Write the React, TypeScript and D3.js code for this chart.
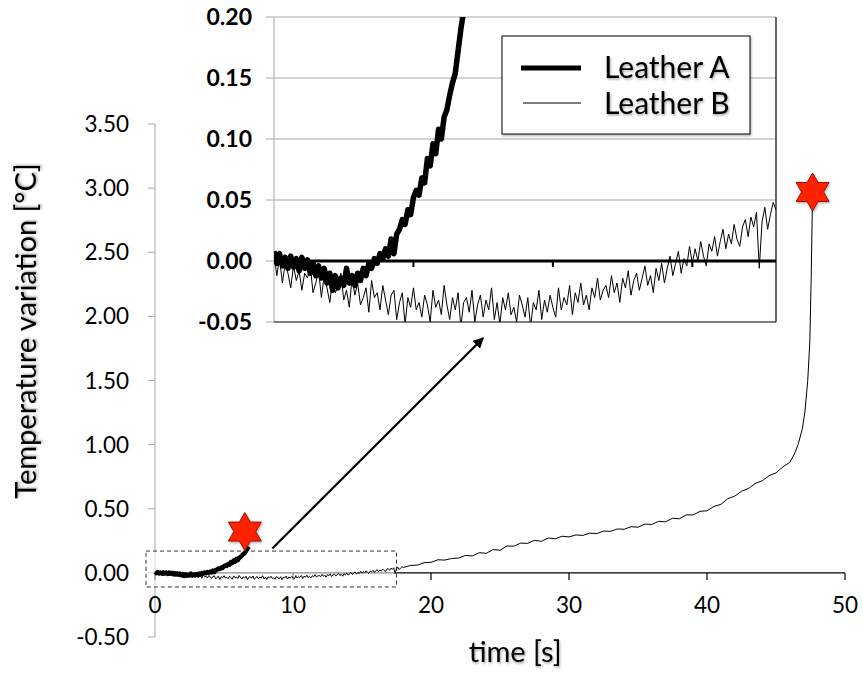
import React from 'react';
import * as d3 from 'd3';

// ---------- data ----------
const seriesNames = ['Leather A', 'Leather B'];
const mainXTicks = [0, 10, 20, 30, 40, 50];
const mainYTicks = [-0.5, 0, 0.5, 1, 1.5, 2, 2.5, 3, 3.5];
const insetXTicks = [5, 10, 15];
const insetYTicks = [-0.05, 0, 0.05, 0.1, 0.15, 0.2];

// Leather A, sampled every 0.1 s starting at t = 0
const leatherAStep = 0.1;
const leatherAValues = [
  0.008, -0.002, 0.006, -0.004, 0.003, -0.006, 0.004, -0.005, 0.002, -0.008,
  0.003, -0.006, 0.001, -0.010, -0.002, -0.012, -0.004, -0.014, -0.006, -0.018,
  -0.010, -0.024, -0.012, -0.022, -0.014, -0.020, -0.006, -0.018, -0.012, -0.020,
  -0.010, -0.016, -0.006, -0.012, -0.002, -0.006, 0.002, -0.002, 0.006, 0.002,
  0.010, 0.004, 0.018, 0.006, 0.022, 0.026, 0.034, 0.030, 0.042, 0.038,
  0.052, 0.058, 0.054, 0.068, 0.064, 0.084, 0.078, 0.096, 0.088, 0.108,
  0.100, 0.118, 0.124, 0.136, 0.146, 0.154, 0.172, 0.190, 0.205,
];

// Leather B, first part sampled every 0.1 s from t = 0 to 18
const leatherBStep = 0.1;
const leatherBFineValues = [
  0.006, -0.012, 0.002, -0.018, -0.002, -0.010, -0.022, -0.004, -0.016, -0.008,
  -0.024, -0.010, -0.014, -0.004, -0.026, -0.018, -0.008, -0.030, -0.012, -0.022,
  -0.034, -0.016, -0.026, -0.020, -0.010, -0.032, -0.024, -0.038, -0.014, -0.028,
  -0.018, -0.036, -0.030, -0.022, -0.042, -0.016, -0.030, -0.026, -0.040, -0.020,
  -0.032, -0.044, -0.028, -0.024, -0.048, -0.034, -0.026, -0.052, -0.030, -0.038,
  -0.022, -0.040, -0.034, -0.046, -0.028, -0.036, -0.050, -0.024, -0.038, -0.032,
  -0.044, -0.020, -0.036, -0.048, -0.030, -0.040, -0.026, -0.054, -0.034, -0.030,
  -0.042, -0.024, -0.050, -0.036, -0.028, -0.046, -0.032, -0.040, -0.022, -0.048,
  -0.034, -0.052, -0.030, -0.040, -0.026, -0.044, -0.038, -0.050, -0.028, -0.036,
  -0.046, -0.030, -0.054, -0.034, -0.040, -0.024, -0.048, -0.032, -0.042, -0.028,
  -0.038, -0.046, -0.022, -0.040, -0.030, -0.036, -0.020, -0.044, -0.026, -0.034,
  -0.018, -0.036, -0.028, -0.040, -0.022, -0.030, -0.014, -0.032, -0.024, -0.020,
  -0.030, -0.012, -0.026, -0.018, -0.034, -0.014, -0.022, -0.008, -0.028, -0.016,
  -0.010, -0.024, -0.014, -0.004, -0.020, -0.012, -0.026, -0.006, -0.016, -0.002,
  -0.018, -0.006, 0.004, -0.012, -0.002, 0.008, -0.010, 0.002, -0.004, 0.012,
  -0.002, 0.010, 0.000, 0.016, 0.004, -0.004, 0.014, 0.008, 0.020, 0.004,
  0.016, 0.026, 0.010, 0.022, 0.014, 0.030, 0.018, 0.012, 0.028, 0.034,
  0.020, 0.036, 0.028, 0.040, -0.006, 0.032, 0.044, 0.026, 0.038, 0.048,
  0.042,
];

// Leather B, remaining part (time, value)
const leatherBCoarseTimes = [
  18.5, 19, 19.5, 20, 20.5, 21, 21.5, 22, 22.5, 23, 23.5, 24, 24.5, 25, 25.5, 26,
  26.5, 27, 27.5, 28, 28.5, 29, 29.5, 30, 30.5, 31, 31.5, 32, 32.5, 33, 33.5, 34,
  34.5, 35, 35.5, 36, 36.5, 37, 37.5, 38, 38.5, 39, 39.5, 40, 40.5, 41, 41.5, 42,
  42.5, 43, 43.5, 44, 44.5, 45, 45.5, 46, 46.3, 46.6, 46.9, 47.1, 47.3, 47.45, 47.55, 47.65,
];
const leatherBCoarseValues = [
  0.058, 0.060, 0.080, 0.082, 0.102, 0.100, 0.112, 0.116, 0.136, 0.132, 0.158, 0.152, 0.182, 0.176, 0.210, 0.208,
  0.232, 0.230, 0.254, 0.246, 0.272, 0.266, 0.286, 0.280, 0.296, 0.292, 0.310, 0.306, 0.326, 0.324, 0.342, 0.340,
  0.360, 0.356, 0.380, 0.378, 0.402, 0.398, 0.426, 0.422, 0.452, 0.452, 0.480, 0.484, 0.518, 0.534, 0.578, 0.598,
  0.636, 0.658, 0.698, 0.718, 0.758, 0.780, 0.826, 0.862, 0.920, 1.000, 1.120, 1.260, 1.500, 1.800, 2.300, 2.970,
];

// zoom window shown in the inset (time, value extents in main-chart units)
const zoomBoxTime = [-0.65, 17.5];
const zoomBoxValue = [-0.11, 0.17];

type Pt = [number, number];
const leatherA: Pt[] = leatherAValues.map((v, i) => [i * leatherAStep, v]);
const leatherB: Pt[] = [
  ...leatherBFineValues.map((v, i) => [i * leatherBStep, v] as Pt),
  ...leatherBCoarseTimes.map((t, i) => [t, leatherBCoarseValues[i]] as Pt),
];

function starPath(cx: number, cy: number, R: number) {
  const r = R / Math.sqrt(3);
  const pts: string[] = [];
  for (let i = 0; i < 12; i++) {
    const a = -Math.PI / 2 + (i * Math.PI) / 6;
    const rad = i % 2 === 0 ? R : r;
    pts.push(`${cx + rad * Math.cos(a)},${cy + rad * Math.sin(a)}`);
  }
  return 'M' + pts.join('L') + 'Z';
}

const FONT = 'Lato, "Open Sans", sans-serif';

export default function App() {
  const W = 863, H = 682;
  const x = d3.scaleLinear().domain([0, 50]).range([155, 845]);
  const y = d3.scaleLinear().domain([-0.5, 3.5]).range([637, 124]);

  const ix = d3.scaleLinear().domain([0, 18]).range([274, 776]);
  const iy = d3.scaleLinear().domain([-0.05, 0.2]).range([322, 17]);

  const mainLine = d3.line<Pt>().x(d => x(d[0])).y(d => y(d[1]));
  const insetLine = d3.line<Pt>().x(d => ix(d[0])).y(d => iy(d[1]));

  const lastA = leatherA[leatherA.length - 1];
  const lastB = leatherB[leatherB.length - 1];

  const boxX0 = x(zoomBoxTime[0]), boxX1 = x(zoomBoxTime[1]);
  const boxY0 = y(zoomBoxValue[1]), boxY1 = y(zoomBoxValue[0]);

  const arrowStart: Pt = [x(8.5), y(0.19)];
  const arrowEnd: Pt = [ix(7.5), iy(-0.05) + 16];

  return (
    <svg width={W} height={H} style={{ position: 'absolute', left: 0, top: 0, background: '#fff' }}
      fontFamily={FONT}>
      <defs>
        <filter id="tshadow" x="-10%" y="-20%" width="130%" height="150%">
          <feDropShadow dx="1" dy="1.5" stdDeviation="1" floodColor="#000" floodOpacity="0.35" />
        </filter>
        <filter id="bshadow" x="-10%" y="-10%" width="130%" height="130%">
          <feDropShadow dx="1" dy="1.5" stdDeviation="1.2" floodColor="#000" floodOpacity="0.3" />
        </filter>
        <clipPath id="insetClip">
          <rect x={274} y={17} width={502} height={305} />
        </clipPath>
        <marker id="arrowHead" viewBox="0 0 10 10" refX="9" refY="5" markerWidth="5" markerHeight="5"
          orient="auto-start-reverse">
          <path d="M0,0L10,5L0,10Z" fill="#000" />
        </marker>
      </defs>

      {/* main y axis */}
      <line x1={x(0)} x2={x(0)} y1={y(3.5)} y2={y(-0.5)} stroke="#a6a6a6" strokeWidth={1} />
      {mainYTicks.map(t => (
        <g key={t}>
          <line x1={x(0) - 7} x2={x(0)} y1={y(t)} y2={y(t)} stroke="#a6a6a6" strokeWidth={1} />
          <text x={129} y={y(t)} dy="0.36em" textAnchor="end" fontSize={22.5} fill="#000">{t.toFixed(2)}</text>
        </g>
      ))}
      {/* main x axis */}
      <line x1={x(0)} x2={x(50)} y1={y(0)} y2={y(0)} stroke="#000" strokeWidth={1.2} />
      {mainXTicks.map(t => (
        <g key={t}>
          <line x1={x(t)} x2={x(t)} y1={y(0)} y2={y(0) + 7} stroke="#000" strokeWidth={1.2} />
          <text x={x(t)} y={605} dy="0.36em" textAnchor="middle" fontSize={22.5} fill="#000">{t}</text>
        </g>
      ))}

      {/* zoom box (translucent) */}
      <rect x={boxX0} y={boxY0} width={boxX1 - boxX0} height={boxY1 - boxY0}
        fill="#fff" fillOpacity={0.55} stroke="#333" strokeWidth={1} strokeDasharray="4,3" />

      {/* main series */}
      <path d={mainLine(leatherB) || ''} fill="none" stroke="#000" strokeWidth={1} strokeLinejoin="round" />
      <path d={mainLine(leatherA) || ''} fill="none" stroke="#000" strokeWidth={4.5} strokeLinejoin="round" />

      {/* stars */}
      <path d={starPath(x(lastA[0]) - 4, y(lastA[1]) - 15, 19)} fill="#ff2200" stroke="#a01000" strokeWidth={1}
        filter="url(#bshadow)" />
      <path d={starPath(x(lastB[0]), y(lastB[1]), 19)} fill="#ff2200" stroke="#a01000" strokeWidth={1}
        filter="url(#bshadow)" />

      {/* arrow */}
      <line x1={arrowStart[0]} y1={arrowStart[1]} x2={arrowEnd[0]} y2={arrowEnd[1]} stroke="#000" strokeWidth={2.2}
        markerEnd="url(#arrowHead)" />

      {/* axis titles */}
      <text x={x(26.1)} y={662} textAnchor="middle" fontSize={29} fill="#000" filter="url(#tshadow)">time [s]</text>
      <text transform={`translate(36,${331}) rotate(-90)`} textAnchor="middle" fontSize={29}
        fill="#000" filter="url(#tshadow)">Temperature variation [°C]</text>

      {/* ---------- inset ---------- */}
      <rect x={274} y={17} width={502} height={305} fill="#fff" />
      {insetYTicks.filter(t => t !== 0 && t !== -0.05).map(t => (
        <line key={t} x1={274} x2={776} y1={iy(t)} y2={iy(t)} stroke="#a6a6a6" strokeWidth={1} />
      ))}
      {insetYTicks.map(t => (
        <line key={'tk' + t} x1={266} x2={274} y1={iy(t)} y2={iy(t)} stroke="#a6a6a6" strokeWidth={1} />
      ))}
      <line x1={274} x2={274} y1={17} y2={322} stroke="#a6a6a6" strokeWidth={1} />
      <line x1={274} x2={776} y1={iy(0)} y2={iy(0)} stroke="#000" strokeWidth={3} />
      {insetXTicks.map(t => (
        <line key={t} x1={ix(t)} x2={ix(t)} y1={iy(0)} y2={iy(0) + 6} stroke="#000" strokeWidth={2} />
      ))}
      {insetYTicks.map(t => (
        <text key={t} x={252} y={iy(t)} dy="0.36em" textAnchor="end" fontSize={23} fontWeight="bold"
          fill="#000">{t.toFixed(2)}</text>
      ))}
      <g clipPath="url(#insetClip)">
        <path d={insetLine(leatherB) || ''} fill="none" stroke="#000" strokeWidth={1} strokeLinejoin="round" />
        <path d={insetLine(leatherA) || ''} fill="none" stroke="#000" strokeWidth={5.5} strokeLinejoin="round" />
      </g>
      <line x1={776} x2={776} y1={17} y2={322} stroke="#000" strokeWidth={1.2} />
      <line x1={274} x2={776} y1={322} y2={322} stroke="#000" strokeWidth={1.2} />

      {/* legend */}
      <rect x={502} y={36} width={248} height={98} fill="#fff" stroke="#000" strokeWidth={1} filter="url(#bshadow)" />
      <line x1={521} x2={581} y1={68} y2={68} stroke="#000" strokeWidth={5} />
      <line x1={523} x2={581} y1={103} y2={103} stroke="#000" strokeWidth={1} />
      <text x={604} y={67} dy="0.36em" fontSize={30} fill="#000" filter="url(#tshadow)">{seriesNames[0]}</text>
      <text x={604} y={103} dy="0.36em" fontSize={30} fill="#000" filter="url(#tshadow)">{seriesNames[1]}</text>
    </svg>
  );
}
